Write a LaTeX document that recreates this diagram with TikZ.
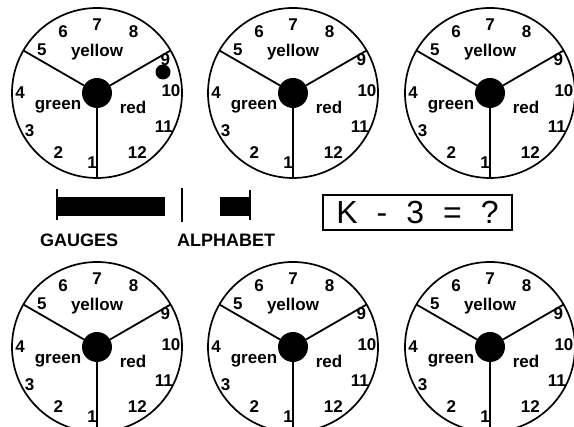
\documentclass[tikz,border=0pt]{standalone}
\usepackage{fontspec}
\setmainfont{Liberation Sans}
\begin{document}
\begin{tikzpicture}[x=1pt,y=1pt,
  rim/.style={draw, line width=1.7pt, circle, minimum size=170pt, inner sep=0pt},
  hub/.style={fill, circle, minimum size=30pt, inner sep=0pt},
  spoke/.style={line width=1.8pt},
  num/.style={font=\fontsize{17}{17}\selectfont\bfseries, inner sep=0pt},
  lbl/.style={font=\fontsize{17}{17}\selectfont\bfseries, inner sep=0pt},
  bar/.style={fill, inner sep=0pt, anchor=south west},
  tick/.style={line width=1.6pt},
  captext/.style={font=\fontsize{18}{18}\selectfont\bfseries, inner sep=0pt, anchor=west},
]
\useasboundingbox (0,0) rectangle (574,427);
\newcommand\myclock[3]{%
 \begin{scope}[shift={(#2,#3)}]
  \node[rim] (#1rim) at (0,0) {};
  \node[hub] (#1hub) at (0,0) {};
  \coordinate (#1ea) at (150:85);
  \coordinate (#1eb) at (30:85);
  \coordinate (#1ec) at (270:85);
  \draw[spoke] (#1hub) -- (#1ea);
  \draw[spoke] (#1hub) -- (#1eb);
  \draw[spoke] (#1hub) -- (#1ec);
  \node[num] (#1n1) at (266:70) {1};
  \node[num] (#1n2) at (237:71) {2};
  \node[num] (#1n3) at (209:77) {3};
  \node[num] (#1n4) at (180:77) {4};
  \node[num] (#1n5) at (142:70) {5};
  \node[num] (#1n6) at (119:70) {6};
  \node[num] (#1n7) at (90:68) {7};
  \node[num] (#1n8) at (59:71) {8};
  \node[num] (#1n9) at (26:76) {9};
  \node[num] (#1n10) at (2:74) {10};
  \node[num] (#1n11) at (-27:75) {11};
  \node[num] (#1n12) at (-56:72) {12};
  \node[lbl] (#1y) at (0,41) {yellow};
  \node[lbl] (#1g) at (-39,-14) {green};
  \node[lbl] (#1r) at (36,-14) {red};
 \end{scope}}
\myclock{a}{97}{334}
\myclock{b}{293}{334}
\myclock{c}{490}{334}
\myclock{d}{97}{80}
\myclock{e}{293}{80}
\myclock{f}{490}{80}
% marker dot in first clock
\node[fill, circle, minimum size=15pt, inner sep=0pt] (dot) at (163,355) {};
% gauges / alphabet indicators
\node[bar, minimum width=108pt, minimum height=19pt] (gbar) at (57,211) {};
\coordinate (gt1) at (57,207); \coordinate (gt2) at (57,238);
\draw[tick] (gt1) -- (gt2);
\coordinate (m1) at (182,205); \coordinate (m2) at (182,239);
\draw[line width=2.2pt] (m1) -- (m2);
\node[bar, minimum width=30pt, minimum height=19pt] (abar) at (220,211) {};
\coordinate (at1) at (250,207); \coordinate (at2) at (250,237);
\draw[tick] (at1) -- (at2);
\node[captext] (gl) at (40,187) {GAUGES};
\node[captext] (al) at (177,187) {ALPHABET};
% question box
\node[draw, line width=1.5pt, minimum width=189pt, minimum height=35pt, inner sep=0pt,
      font=\fontsize{32}{32}\selectfont] (q) at (417.5,214.5)
  {K\hspace{19pt}-\hspace{19pt}3\hspace{19pt}=\hspace{19pt}?};
\end{tikzpicture}
\end{document}
